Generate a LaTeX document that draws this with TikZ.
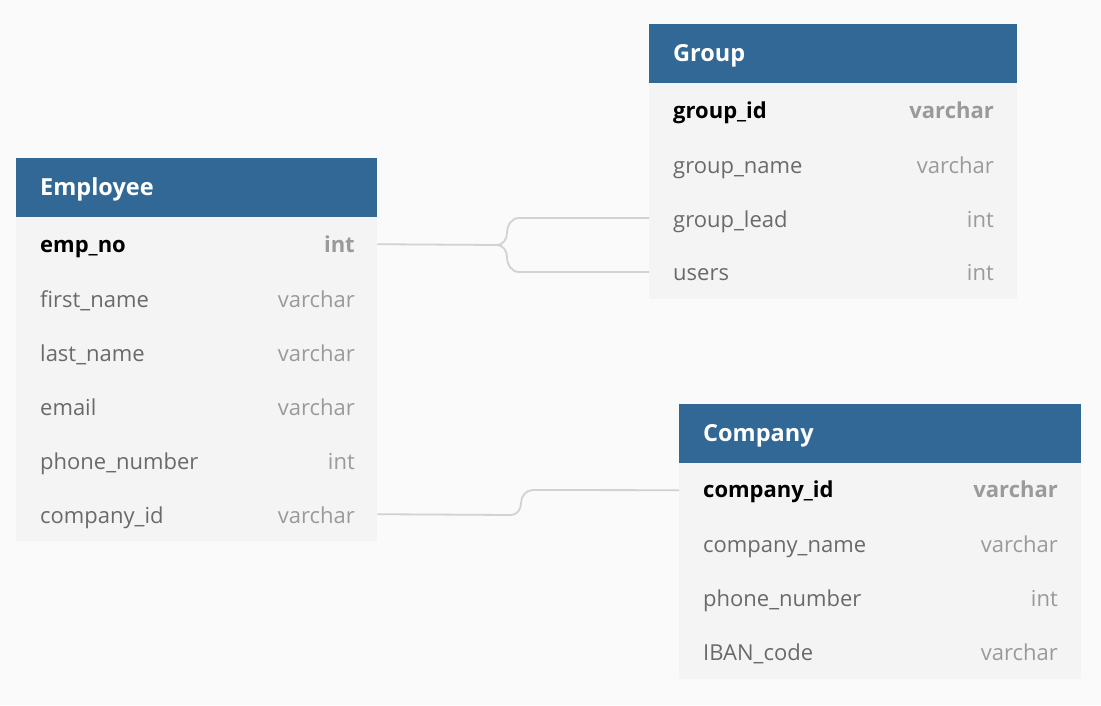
\documentclass[tikz,border=0pt]{standalone}
\usepackage{fontspec}
\setmainfont{Open Sans}
\definecolor{bgc}{HTML}{FAFAFA}
\definecolor{rowc}{HTML}{F4F4F4}
\definecolor{hdrc}{HTML}{316896}
\definecolor{namec}{HTML}{6A6A6A}
\definecolor{typec}{HTML}{9A9A9A}
\definecolor{connc}{HTML}{D2D2D2}
\tikzset{
  hdrbox/.style={fill=hdrc, draw=none, anchor=north west, inner sep=0pt, minimum height=59pt},
  rowbox/.style={fill=rowc, draw=none, anchor=north west, inner sep=0pt, minimum height=54pt},
  title/.style={anchor=base west, inner sep=0pt, text=white, font=\fontsize{23.5}{27}\selectfont\bfseries},
  fname/.style={anchor=base west, inner sep=0pt, text=namec, font=\fontsize{22}{26}\selectfont},
  ftype/.style={anchor=base east, inner sep=0pt, text=typec, font=\fontsize{22}{26}\selectfont},
  kname/.style={anchor=base west, inner sep=0pt, text=black, font=\fontsize{22}{26}\selectfont\bfseries},
  ktype/.style={anchor=base east, inner sep=0pt, text=typec, font=\fontsize{22}{26}\selectfont\bfseries},
  conn/.style={draw=connc, line width=1.8pt}
}
\begin{document}
\begin{tikzpicture}[x=1pt,y=-1pt]
\fill[bgc] (0,0) rectangle (1101,705);
\useasboundingbox (0,0) rectangle (1101,705);

% Employee
\node[hdrbox, minimum width=361pt] (emph) at (16,158) {};
\node[title] (empt) at (40,195) {Employee};
\foreach \i in {1,...,6}{
  \node[rowbox, minimum width=361pt] (emp\i) at (16,{217+54*(\i-1)}) {};
}
\node[kname] (empn1) at (40,252) {emp\_no};
\node[ktype] (empy1) at (355,252) {int};
\node[fname] (empn2) at (40,307) {first\_name};
\node[ftype] (empy2) at (355,307) {varchar};
\node[fname] (empn3) at (40,361) {last\_name};
\node[ftype] (empy3) at (355,361) {varchar};
\node[fname] (empn4) at (40,415) {email};
\node[ftype] (empy4) at (355,415) {varchar};
\node[fname] (empn5) at (40,469) {phone\_number};
\node[ftype] (empy5) at (355,469) {int};
\node[fname] (empn6) at (40,523) {company\_id};
\node[ftype] (empy6) at (355,523) {varchar};

% Group
\node[hdrbox, minimum width=368pt] (grph) at (649,24) {};
\node[title] (grpt) at (673,61) {Group};
\foreach \i in {1,2,3,4}{
  \node[rowbox, minimum width=368pt] (grp\i) at (649,{83+54*(\i-1)}) {};
}
\node[kname] (grpn1) at (673,118) {group\_id};
\node[ktype] (grpy1) at (994,118) {varchar};
\node[fname] (grpn2) at (673,173) {group\_name};
\node[ftype] (grpy2) at (994,173) {varchar};
\node[fname] (grpn3) at (673,227) {group\_lead};
\node[ftype] (grpy3) at (994,227) {int};
\node[fname] (grpn4) at (673,280) {users};
\node[ftype] (grpy4) at (994,280) {int};

% Company
\node[hdrbox, minimum width=402pt] (comh) at (679,404) {};
\node[title] (comt) at (703,441) {Company};
\foreach \i in {1,2,3,4}{
  \node[rowbox, minimum width=402pt] (com\i) at (679,{463+54*(\i-1)}) {};
}
\node[kname] (comn1) at (703,497) {company\_id};
\node[ktype] (comy1) at (1058,497) {varchar};
\node[fname] (comn2) at (703,552) {company\_name};
\node[ftype] (comy2) at (1058,552) {varchar};
\node[fname] (comn3) at (703,606) {phone\_number};
\node[ftype] (comy3) at (1058,606) {int};
\node[fname] (comn4) at (703,660) {IBAN\_code};
\node[ftype] (comy4) at (1058,660) {varchar};

% connectors
\coordinate (fork) at (497,245);
\draw[conn] (emp1.east) -- (fork);
\draw[conn] (fork) to[out=0,in=-90] (507,233) to[out=90,in=180] (519,218) -- (grp3.west |- 0,218);
\draw[conn] (fork) to[out=0,in=90] (507,257) to[out=-90,in=180] (519,272) -- (grp4.west |- 0,272);
\draw[conn] (emp6.east) -- (511,515) to[out=0,in=-90] (521,503) to[out=90,in=180] (533,490) -- (com1.west);
\end{tikzpicture}
\end{document}
